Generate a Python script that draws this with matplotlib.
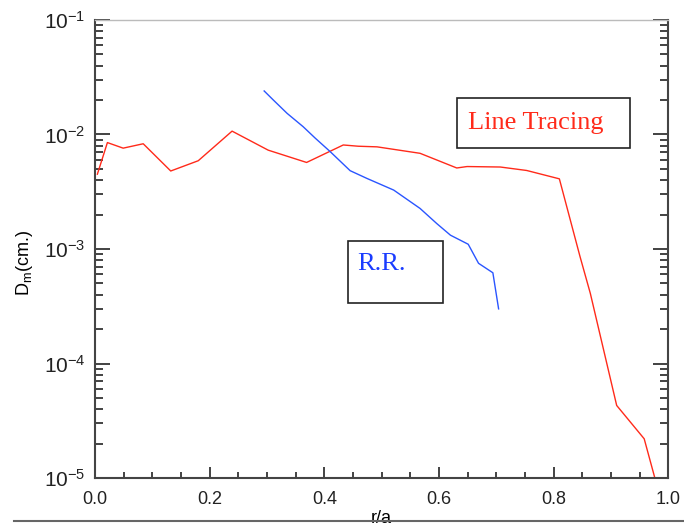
import matplotlib
matplotlib.use("Agg")
import matplotlib.pyplot as plt
from matplotlib.lines import Line2D
from matplotlib.patches import Rectangle
from matplotlib.ticker import LogLocator, MultipleLocator

plt.rcParams['font.family'] = ['Liberation Sans', 'DejaVu Sans']
plt.rcParams['mathtext.fontset'] = 'custom'
plt.rcParams['mathtext.rm'] = 'Liberation Sans'
plt.rcParams['mathtext.it'] = 'Liberation Sans:italic'
plt.rcParams['mathtext.bf'] = 'Liberation Sans:bold'

# Line tracing profile (red)
lt_r = [0.004, 0.0215, 0.049, 0.084, 0.132, 0.180, 0.239, 0.302, 0.369,
        0.433, 0.459, 0.492, 0.567, 0.631, 0.649, 0.707, 0.753, 0.810,
        0.846, 0.864, 0.910, 0.958, 0.985]
lt_d = [4.5e-3, 8.5e-3, 7.6e-3, 8.3e-3, 4.8e-3, 5.9e-3, 1.07e-2, 7.3e-3, 5.7e-3,
        8.1e-3, 7.9e-3, 7.8e-3, 6.85e-3, 5.1e-3, 5.25e-3, 5.2e-3, 4.85e-3, 4.1e-3,
        8.6e-4, 4.1e-4, 4.3e-5, 2.2e-5, 7.0e-6]

# R.R. profile (blue)
rr_r = [0.295, 0.311, 0.335, 0.363, 0.384, 0.410, 0.445, 0.474, 0.521,
        0.567, 0.596, 0.620, 0.651, 0.669, 0.694, 0.704]
rr_d = [2.40e-2, 2.00e-2, 1.53e-2, 1.17e-2, 9.3e-3, 7.1e-3, 4.83e-3, 4.14e-3, 3.27e-3,
        2.26e-3, 1.67e-3, 1.32e-3, 1.10e-3, 7.5e-4, 6.2e-4, 3.0e-4]

fig = plt.figure(figsize=(6.84, 5.29), dpi=100)
ax = fig.add_axes([0.139, 0.0964, 0.838, 0.8658])

ax.plot(lt_r, lt_d, color='#ff2a1a', lw=1.0)
ax.plot(rr_r, rr_d, color='#2a55ff', lw=1.0)

ax.set_yscale('log')
ax.set_xlim(0, 1)
ax.set_ylim(1e-5, 1e-1)
ax.xaxis.set_major_locator(MultipleLocator(0.2))
ax.xaxis.set_minor_locator(MultipleLocator(0.05))
ax.xaxis.set_major_formatter(plt.FormatStrFormatter('%.1f'))
ax.yaxis.set_minor_locator(LogLocator(base=10, subs=range(2, 10)))

ax.tick_params(which='both', direction='in', right=True, top=False,
               width=1.2, colors='#222222')
ax.tick_params(axis='y', which='major', length=11, pad=7, labelsize=15)
ax.tick_params(axis='y', which='minor', length=6)
ax.tick_params(axis='x', which='major', length=8, pad=9, labelsize=13)
ax.tick_params(axis='x', which='minor', length=4)
for s in ['left', 'bottom', 'right']:
    ax.spines[s].set_linewidth(1.5)
    ax.spines[s].set_color('#444444')
ax.spines['top'].set_color('#bbbbbb')
ax.spines['top'].set_linewidth(1.0)

ax.set_xlabel('r/a', fontsize=13, labelpad=2)
ax.set_ylabel(r'D$_{\rm m}$(cm.)', fontsize=13)
ax.yaxis.set_label_coords(-0.105, 0.47)

# annotation boxes
ax.add_patch(Rectangle((0.632, 0.721), 0.302, 0.109, transform=ax.transAxes,
                       fill=False, edgecolor='#222222', lw=1.2))
ax.text(0.650, 0.776, 'Line Tracing', transform=ax.transAxes, color='#ff2a1a',
        fontsize=19, family='Liberation Serif', va='center', ha='left')
ax.add_patch(Rectangle((0.4415, 0.382), 0.1655, 0.135, transform=ax.transAxes,
                       fill=False, edgecolor='#222222', lw=1.2))
ax.text(0.458, 0.467, 'R.R.', transform=ax.transAxes, color='#1a3cff',
        fontsize=19, family='Liberation Serif', va='center', ha='left')

fig.add_artist(Line2D([0.02, 1.0], [0.015, 0.015], color='#666666', lw=1.5,
                      transform=fig.transFigure))

fig.savefig('out.png', dpi=100)
